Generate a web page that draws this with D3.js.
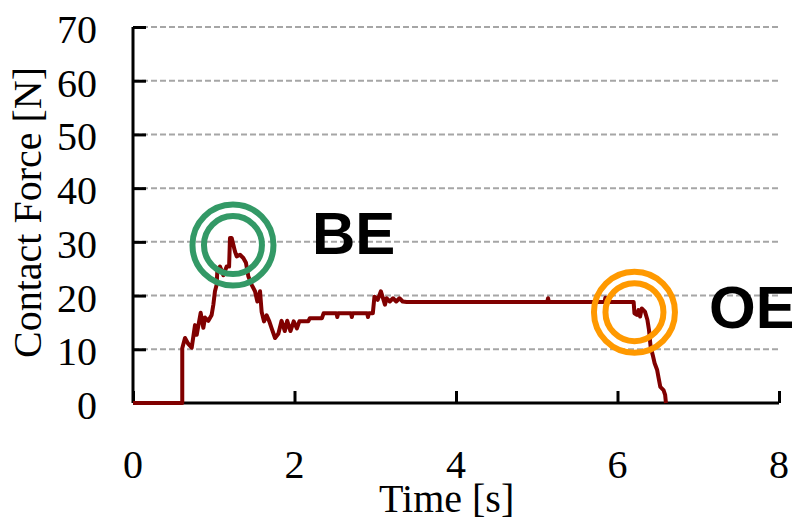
<!DOCTYPE html>
<html>
<head>
<meta charset="utf-8">
<script src="https://cdn.jsdelivr.net/npm/d3@7"></script>
<style>
  html, body { margin: 0; padding: 0; background: #fff; }
  svg { display: block; }
  .tick-label { font-family: "Liberation Serif", "Times New Roman", serif; font-size: 40px; fill: #000; }
  .axis-title { font-family: "Liberation Serif", "Times New Roman", serif; font-size: 40px; fill: #000; }
  .event-label { font-family: "Liberation Sans", Arial, sans-serif; font-weight: bold; font-size: 60px; fill: #000; }
</style>
</head>
<body>
<svg id="chart" width="792" height="520"></svg>
<script>
// contact force trace (time in s, force in N)
const timeS = [
  0, 0.61, 0.61, 0.644, 0.685, 0.727, 0.768, 0.789, 0.838, 0.871, 0.892, 0.933, 0.974, 0.995,
  1.015, 1.036, 1.044, 1.077, 1.119, 1.16, 1.19, 1.201, 1.222, 1.263, 1.284, 1.325, 1.366, 1.399,
  1.428, 1.47, 1.511, 1.54, 1.573, 1.593, 1.622, 1.655, 1.688, 1.717, 1.759, 1.8, 1.84, 1.88,
  1.91, 1.95, 1.99, 2.03, 2.06, 2.17, 2.19, 2.34, 2.36, 2.52, 2.53, 2.54, 2.7, 2.71, 2.72,
  2.9, 2.91, 2.92, 2.97, 2.99, 3.03, 3.07, 3.12, 3.14, 3.18, 3.22, 3.26, 3.3, 3.34, 3.39,
  5.13, 5.14, 5.15, 5.84, 5.85, 5.86, 6.2, 6.21, 6.24, 6.26, 6.28, 6.3, 6.34, 6.37, 6.39,
  6.41, 6.44, 6.46, 6.49, 6.51, 6.53, 6.57, 6.59, 6.6
];
const forceN = [
  0, 0, 10.2, 12.1, 11.0, 10.3, 14.5, 12.7, 16.8, 14.0, 15.9, 15.3, 16.4, 18.3,
  20.8, 22.0, 24.5, 25.4, 23.8, 25.4, 25.4, 30.7, 30.7, 28.2, 27.3, 27.6, 27.0, 26.1,
  23.6, 22.0, 20.8, 18.9, 20.8, 17.0, 15.2, 16.3, 15.2, 13.9, 12.1, 12.9, 15.3, 13.4,
  15.3, 13.4, 15.2, 13.9, 15.2, 15.2, 15.8, 15.8, 16.7, 16.7, 16.0, 16.7, 16.7, 16.0, 16.7,
  16.7, 16.0, 16.7, 16.7, 19.8, 19.2, 20.8, 18.3, 19.5, 18.9, 19.5, 18.9, 19.5, 18.9, 18.8,
  18.8, 19.5, 18.8, 18.8, 19.6, 18.8, 18.8, 16.7, 16.4, 17.3, 16.1, 17.6, 17.0, 15.5, 13.6,
  10.5, 8.7, 7.4, 6.2, 4.6, 3.0, 2.4, 1.5, 0
];

const xTicks = [0, 2, 4, 6, 8];
const yTicks = [0, 10, 20, 30, 40, 50, 60, 70];

// event markers: label, circle centre (t, F), label anchor (t, F)
const eventNames = ['BE', 'OE'];
const eventColors = ['#339966', '#FF9900'];
const eventCenterT = [1.238, 6.21];
const eventCenterF = [29.4, 16.9];
const eventLabelT = [2.217, 7.133];
const eventLabelF = [27.7, 13.9];

const margin = {top: 27, right: 13, bottom: 117, left: 133};
const width = 792, height = 520;
const w = width - margin.left - margin.right;
const h = height - margin.top - margin.bottom;

const x = d3.scaleLinear().domain([0, 8]).range([0, w]);
const y = d3.scaleLinear().domain([0, 70]).range([h, 0]);

const svg = d3.select('#chart');
const g = svg.append('g').attr('transform', `translate(${margin.left},${margin.top})`);

// dashed grid
g.append('g')
  .selectAll('line')
  .data(yTicks.filter(d => d > 0))
  .join('line')
  .attr('x1', 0).attr('x2', w)
  .attr('y1', d => y(d)).attr('y2', d => y(d))
  .attr('stroke', '#a6a6a6')
  .attr('stroke-width', 2)
  .attr('stroke-dasharray', '6,3');

// y axis
const yAxis = g.append('g')
  .call(d3.axisRight(y).tickValues(yTicks).tickSize(13).tickFormat(''));
yAxis.select('.domain').attr('d', `M0,0V${h}`).attr('stroke', '#000').attr('stroke-width', 3);
yAxis.selectAll('.tick line').attr('stroke', '#000').attr('stroke-width', 3);

g.append('g')
  .selectAll('text')
  .data(yTicks)
  .join('text')
  .attr('class', 'tick-label')
  .attr('x', -36)
  .attr('y', d => y(d))
  .attr('dy', '0.4em')
  .attr('text-anchor', 'end')
  .text(d => d);

// x axis
const xAxis = g.append('g')
  .attr('transform', `translate(0,${h})`)
  .call(d3.axisTop(x).tickValues(xTicks).tickSize(12).tickFormat(''));
xAxis.select('.domain').attr('d', `M0,0H${w}`).attr('stroke', '#000').attr('stroke-width', 3);
xAxis.selectAll('.tick line').attr('stroke', '#000').attr('stroke-width', 3);

g.append('g')
  .selectAll('text')
  .data(xTicks)
  .join('text')
  .attr('class', 'tick-label')
  .attr('x', d => x(d))
  .attr('y', h + 75)
  .attr('text-anchor', 'middle')
  .text(d => d);

// titles
svg.append('text')
  .attr('class', 'axis-title')
  .attr('x', 379)
  .attr('y', 512)
  .text('Time [s]');

svg.append('text')
  .attr('class', 'axis-title')
  .attr('transform', 'translate(41,212.5) rotate(-90)')
  .attr('text-anchor', 'middle')
  .text('Contact Force [N]');

// force trace
const line = d3.line()
  .x(i => x(timeS[i]))
  .y(i => y(forceN[i]));

g.append('path')
  .datum(d3.range(timeS.length))
  .attr('d', line)
  .attr('fill', 'none')
  .attr('stroke', '#800000')
  .attr('stroke-width', 4)
  .attr('stroke-linejoin', 'round');

// event rings and labels
eventNames.forEach((name, i) => {
  [40.5, 29].forEach(r => {
    g.append('circle')
      .attr('cx', x(eventCenterT[i]))
      .attr('cy', y(eventCenterF[i]))
      .attr('r', r)
      .attr('fill', 'none')
      .attr('stroke', eventColors[i])
      .attr('stroke-width', 6);
  });
  g.append('text')
    .attr('class', 'event-label')
    .attr('x', x(eventLabelT[i]))
    .attr('y', y(eventLabelF[i]))
    .text(name);
});
</script>
</body>
</html>
